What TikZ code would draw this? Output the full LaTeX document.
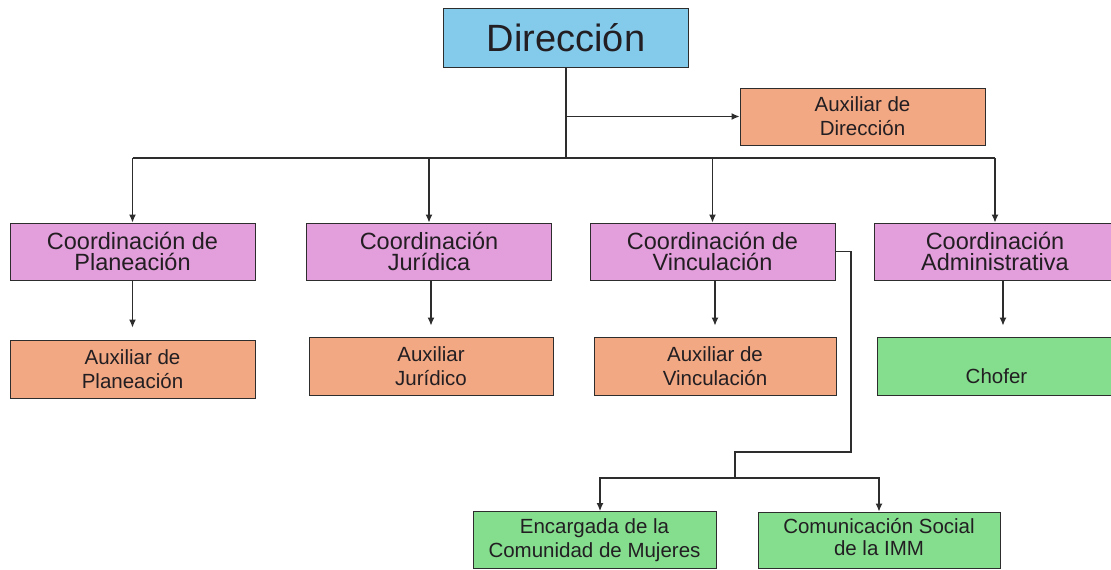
\documentclass[tikz,border=0pt]{standalone}
\usepackage{fontspec}
\setmainfont{Liberation Sans}
\usetikzlibrary{arrows.meta}
\definecolor{cblue}{RGB}{131,202,235}
\definecolor{corange}{RGB}{241,168,131}
\definecolor{cviolet}{RGB}{227,158,220}
\definecolor{cgreen}{RGB}{132,222,142}
\definecolor{ctext}{RGB}{34,30,34}
\definecolor{cline}{RGB}{45,45,45}
\tikzset{
  box/.style={draw=cline, line width=0.9pt, align=center, text=ctext, inner sep=0pt},
  dirbox/.style={box, fill=cblue, minimum width=245pt, minimum height=59pt, font=\fontsize{38}{40}\selectfont},
  coordbox/.style={box, fill=cviolet, minimum width=245pt, minimum height=57pt, font=\fontsize{23.5}{21.5}\selectfont},
  auxbox/.style={box, fill=corange, minimum width=245pt, minimum height=58pt, font=\fontsize{20.5}{24}\selectfont},
  greenbox/.style={box, fill=cgreen, minimum width=243pt, minimum height=57pt, font=\fontsize{20.5}{24}\selectfont},
  conn/.style={draw=cline, line width=1.2pt},
  arr/.style={conn, -{Latex[length=8pt,width=7pt]}},
}
\begin{document}
\begin{tikzpicture}[x=1pt,y=-1pt]
\useasboundingbox (0,0) rectangle (1111,570);
% nodes
\node[dirbox] (dir) at (566,37.5) {Dirección};
\node[auxbox, minimum height=57pt] (auxdir) at (862.5,116.5) {Auxiliar de\\Dirección};
\node[coordbox] (cplan) at (132.5,251.5) {Coordinación de\\Planeación};
\node[coordbox] (cjur) at (429,251.5) {Coordinación\\Jurídica};
\node[coordbox] (cvinc) at (712.5,251.5) {Coordinación de\\Vinculación};
\node[coordbox, minimum width=242pt] (cadm) at (995,251.5) {Coordinación\\Administrativa};
\node[auxbox] (apl) at (132.5,369) {Auxiliar de\\Planeación};
\node[auxbox, minimum width=244pt] (ajur) at (431,366) {Auxiliar\\Jurídico};
\node[auxbox, minimum width=242pt] (avinc) at (715,366) {Auxiliar de\\Vinculación};
\node[greenbox, minimum width=239pt, minimum height=58pt] (chofer) at (996.5,366) {\strut\\[-5pt]Chofer};
\node[greenbox] (enc) at (594.5,540) {Encargada de la\\Comunidad de Mujeres};
\node[greenbox, minimum width=242pt, minimum height=56pt] (com) at (879,540) {\raisebox{4pt}{\begin{tabular}{@{}c@{}}Comunicación Social\\[-2pt]de la IMM\end{tabular}}};
% connectors
\coordinate (bus) at (566,158);
\draw[conn] (dir.south) -- (bus);
\draw[arr] (dir.south |- auxdir.west) -- (auxdir.west);
\draw[conn] (cplan.north |- bus) -- (cadm.north |- bus);
\draw[arr] (cplan.north |- bus) -- (cplan.north);
\draw[arr] (cjur.north |- bus) -- (cjur.north);
\draw[arr] (cvinc.north |- bus) -- (cvinc.north);
\draw[arr] (cadm.north |- bus) -- (cadm.north);
\draw[arr, shorten >=12pt] (cplan.south) -- (apl.north);
\draw[arr, shorten >=11pt] (cjur.south -| ajur.north) -- (ajur.north);
\draw[arr, shorten >=11pt] (cvinc.south -| avinc.north) -- (avinc.north);
\draw[arr, shorten >=11pt] ([xshift=8pt]cadm.south) -- ([xshift=8pt]cadm.south |- chofer.north);
\coordinate (vturn) at (851,452);
\coordinate (vbus) at (735,478);
\draw[conn] (cvinc.east) -| (vturn) -| (vbus);
\draw[arr] (vbus) -| ([xshift=5.5pt]enc.north);
\draw[arr] (vbus) -| (com.north);
\end{tikzpicture}
\end{document}
